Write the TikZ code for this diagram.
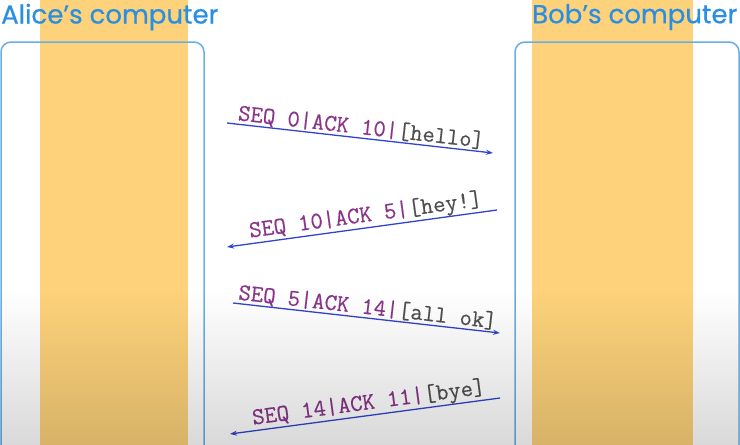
\documentclass[tikz,border=0pt]{standalone}
\usepackage{fontspec}
\newfontfamily\msgfont[FakeBold=0.4]{Latin Modern Mono}
\newfontfamily\titlefont[FakeBold=0.6]{Poppins}
\usetikzlibrary{arrows.meta,fadings}
\definecolor{band}{HTML}{FDD27A}
\definecolor{boxblue}{HTML}{6AAEE6}
\definecolor{titleblue}{HTML}{2A8FE2}
\definecolor{seqpurple}{HTML}{8A358A}
\definecolor{datagray}{HTML}{505050}
\definecolor{arrowblue}{HTML}{3344CC}
\tikzset{
  computer/.style={draw=boxblue, line width=1.5pt, rounded corners=10pt},
  bandfill/.style={fill=band},
  title/.style={text=titleblue, font=\titlefont\fontsize{26}{26}\selectfont, inner sep=0pt},
  msg/.style={draw=arrowblue, line width=1.3pt},
  tipr/.style={-{Stealth[length=7pt,width=5pt]}},
  tipl/.style={{Stealth[length=7pt,width=5pt]}-},
  lbl/.style={font=\msgfont\fontsize{24}{24}\selectfont, sloped, above, inner sep=0pt},
}
\newcommand\seqtxt[1]{\textcolor{seqpurple}{#1}}
\newcommand\datatxt[1]{\textcolor{datagray}{#1}}
\begin{document}
\begin{tikzpicture}[x=1pt,y=-1pt]
\useasboundingbox (0,0) rectangle (740,445);
\clip (0,0) rectangle (740,445);
\fill[white] (0,0) rectangle (740,445);
% bands
\fill[bandfill] (40,0) rectangle (188,445);
\fill[bandfill] (532,0) rectangle (693,445);
% computer boxes
\draw[computer] (1,42) rectangle (204,480);
\draw[computer] (515,42) rectangle (739,480);
% titles
\node[title, anchor=west] (alice) at (1,17) {Alice’s computer};
\node[title, anchor=west] (bob) at (532,17) {Bob’s computer};
% message endpoints
\coordinate (m1l) at (227,123); \coordinate (m1r) at (493,153);
\coordinate (m2l) at (227,247); \coordinate (m2r) at (497,210);
\coordinate (m3l) at (233,303); \coordinate (m3r) at (500,333);
\coordinate (m4l) at (230,434); \coordinate (m4r) at (500,398);
% messages
\draw[msg,tipr] (m1l) -- node[lbl,pos=0.5] (t1) {\seqtxt{SEQ 0|ACK 10|}\datatxt{[hello]}} (m1r);
\draw[msg,tipl] (m2l) -- node[lbl,pos=0.52] (t2) {\seqtxt{SEQ 10|ACK 5|}\datatxt{[hey!]}} (m2r);
\draw[msg,tipr] (m3l) -- node[lbl,pos=0.5] (t3) {\seqtxt{SEQ 5|ACK 14|}\datatxt{[all ok]}} (m3r);
\draw[msg,tipl] (m4l) -- node[lbl,pos=0.52] (t4) {\seqtxt{SEQ 14|ACK 11|}\datatxt{[bye]}} (m4r);
% bottom darkening
\fill[black, opacity=0.15, path fading=north] (0,290) rectangle (740,445);
\end{tikzpicture}
\end{document}
